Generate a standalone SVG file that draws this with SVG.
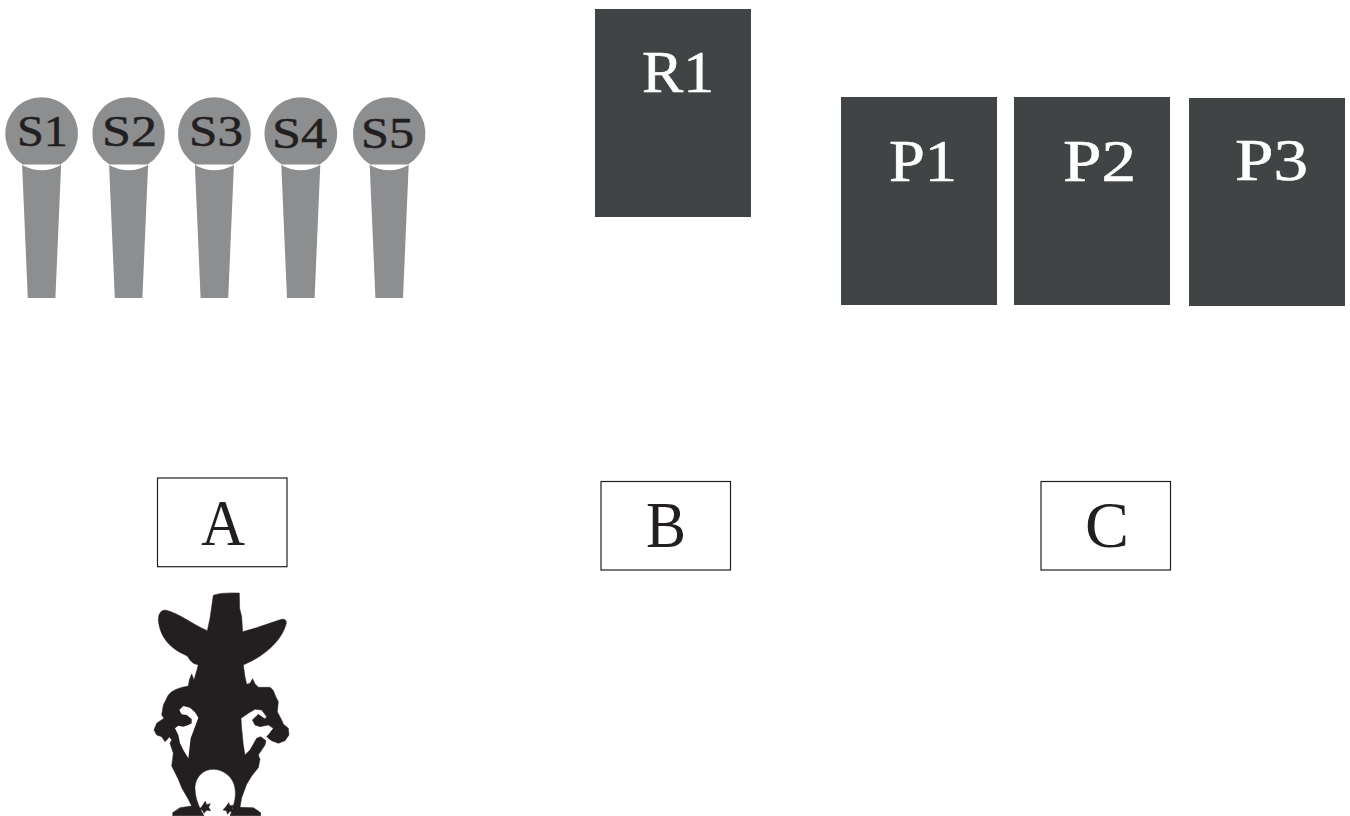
<svg xmlns="http://www.w3.org/2000/svg" width="1350" height="816" viewBox="0 0 1350 816">
<style>
.pin{fill:#8c8e90}
.dark{fill:#414445}
.box{fill:#fff;stroke:#231f20;stroke-width:1.2}
.sl{font-family:"Liberation Serif",serif;font-size:44px;fill:#231f20;stroke:#231f20;stroke-width:.5}
.wl{font-family:"Liberation Serif",serif;font-size:60px;fill:#fff;stroke:#fff;stroke-width:.6}
.bl{font-family:"Liberation Serif",serif;font-size:65px;fill:#231f20}
.fig{fill:#231f20;stroke:#231f20;stroke-width:1.5;stroke-linejoin:round}
.hole{fill:#fff}
</style>
<defs>
<g id="pin">
<path class="pin" d="M-19 164.5A36.3 36.3 0 1 1 19 164.5Z"/>
<path class="pin" d="M-19.5 165Q0 175.5 19.5 165L13.8 298H-13.8Z"/>
</g>
</defs>
<g id="S1"><use href="#pin" x="41.6"/><text class="sl" x="17" y="146" textLength="51" lengthAdjust="spacingAndGlyphs">S1</text></g>
<g id="S2"><use href="#pin" x="128.6"/><text class="sl" x="102" y="146" textLength="55" lengthAdjust="spacingAndGlyphs">S2</text></g>
<g id="S3"><use href="#pin" x="214.4"/><text class="sl" x="189" y="146" textLength="54" lengthAdjust="spacingAndGlyphs">S3</text></g>
<g id="S4"><use href="#pin" x="300.8"/><text class="sl" x="272" y="148" textLength="55" lengthAdjust="spacingAndGlyphs">S4</text></g>
<g id="S5"><use href="#pin" x="389.2"/><text class="sl" x="361" y="148" textLength="53" lengthAdjust="spacingAndGlyphs">S5</text></g>
<g id="R1"><rect class="dark" x="595" y="9" width="156" height="208"/><text class="wl" x="642" y="92" textLength="72" lengthAdjust="spacingAndGlyphs">R1</text></g>
<g id="P1"><rect class="dark" x="841" y="97" width="156" height="208"/><text class="wl" x="889" y="181" textLength="68" lengthAdjust="spacingAndGlyphs">P1</text></g>
<g id="P2"><rect class="dark" x="1014" y="97" width="156" height="208"/><text class="wl" x="1063" y="181" textLength="73" lengthAdjust="spacingAndGlyphs">P2</text></g>
<g id="P3"><rect class="dark" x="1189" y="98" width="156" height="208"/><text class="wl" x="1235" y="180" textLength="73" lengthAdjust="spacingAndGlyphs">P3</text></g>
<g id="A"><rect class="box" x="157.5" y="478" width="129.5" height="88.7"/><text class="bl" x="201" y="545" textLength="44" lengthAdjust="spacingAndGlyphs">A</text></g>
<g id="B"><rect class="box" x="601" y="481.5" width="129.5" height="88.5"/><text class="bl" x="646" y="547" textLength="40" lengthAdjust="spacingAndGlyphs">B</text></g>
<g id="C"><rect class="box" x="1041" y="481.5" width="129.5" height="88.5"/><text class="bl" x="1085" y="547" textLength="44" lengthAdjust="spacingAndGlyphs">C</text></g>
<g id="figure" transform="translate(130 580) scale(.3333)">
<path class="fig" d="M250 46Q270 37 328 39L329 85L335 110L338 155C380 145 430 125 455 118Q470 115 469 130C460 170 420 215 365 243L340 255L345 290L350 313L360 310L368 296L375 311L385 322L420 322Q432 330 435 345L445 365L442 395L455 420L460 432L475 445L477 465L465 482L445 490L425 482L415 475L410 469L415 465L430 445L415 435L390 440L375 435L367 420L385 403L405 417L410 410L395 390L375 388L355 400L333 415L335 445L340 495L345 525L360 510L380 475L392 470L408 482L405 495L385 525L390 538L385 563L365 588L350 613L335 653L330 682L370 683L392 698L392 707L300 707L306 692C316 660 320 640 312 612C302 585 275 568 250 568C220 568 198 590 195 620C194 645 202 670 214 693L222 707L128 707L128 698L150 683L185 678L175 658L155 623L145 598L125 558L130 520L120 490L125 480L118 470L115 475L105 485L95 470L80 465L72 450L80 430L102 415L95 405L100 375L115 345Q130 325 175 318L178 300L185 282L192 300L205 255L190 250Q178 240 172 228C130 210 90 180 85 120Q85 92 105 90C140 95 190 135 232 152L240 115Z"/>
<path class="hole" d="M148 390L160 378L180 383L195 397L205 413L195 440L182 475L175 535L160 510L150 490L145 465L135 445L145 437L160 440L175 435L185 430L185 417L170 405L155 403Z"/>
<path class="fig" d="M226 664L230 674L241 671L236 682L242 692L230 691L222 700L217 690L208 688L216 679Z"/>
<path class="fig" d="M296 668L300 677L312 676L306 686L312 696L300 694L293 703L289 692L279 690L287 681Z"/>
</g>
</svg>
